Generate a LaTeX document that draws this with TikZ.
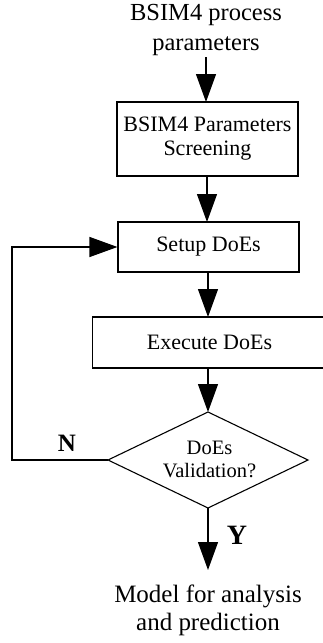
\documentclass[tikz,border=0pt]{standalone}
\usepackage{fontspec}
\setmainfont{Liberation Serif}
\usetikzlibrary{arrows.meta,shapes.geometric}
\begin{document}
\begin{tikzpicture}[x=1pt,y=-1pt,
  box/.style={draw,line width=1.1pt,minimum width=181pt,minimum height=74pt,inner sep=0pt,align=center},
  flow/.style={line width=1.2pt,-{Triangle[width=20pt,length=28pt]}},
  plain/.style={line width=1.2pt}]
\useasboundingbox (0,0) rectangle (322,643);
\node[align=center,font=\fontsize{24.5}{30}\selectfont] (in) at (206,30) {BSIM4 process\\parameters};
\node[box,font=\fontsize{22}{24}\selectfont] (scr) at (207.5,139) {BSIM4 Parameters\\Screening};
\node[box,minimum height=50pt,font=\fontsize{22}{24}\selectfont] (set) at (208.5,247) {Setup DoEs};
\node[draw,line width=1.1pt,minimum width=240pt,minimum height=51pt,anchor=west,inner sep=0pt] (exe) at (92,342.5) {};
\node[font=\fontsize{22}{24}\selectfont] (exet) at (209.5,342.5) {Execute DoEs};
\coordinate (dt) at (208,412);
\coordinate (dl) at (108,460);
\coordinate (dr) at (308,460);
\coordinate (db) at (208,508);
\draw[line width=1.1pt] (dt) -- (dr) -- (db) -- (dl) -- cycle;
\node[align=center,font=\fontsize{20.5}{23}\selectfont] (val) at (209.5,459) {DoEs\\Validation?};
\node[align=center,font=\fontsize{25}{28}\selectfont] (out) at (208,610) {Model for analysis\\and prediction};
\node[font=\fontsize{25}{25}\selectfont\bfseries] (N) at (67,443) {N};
\node[font=\fontsize{28}{28}\selectfont\bfseries] (Y) at (237,535) {Y};
\coordinate (fb1) at (12,460);
\coordinate (fb2) at (12,247);
\coordinate (ytip) at (208,570);
\draw[flow] (206,57) -- (206,102);
\draw[flow] (207,176) -- (207,222);
\draw[flow] (208,272) -- (208,317);
\draw[flow] (208,368) -- (dt);
\draw[flow] (db) -- (ytip);
\draw[flow] (dl) -- (fb1) -- (fb2) -- (set.west);
\end{tikzpicture}
\end{document}
